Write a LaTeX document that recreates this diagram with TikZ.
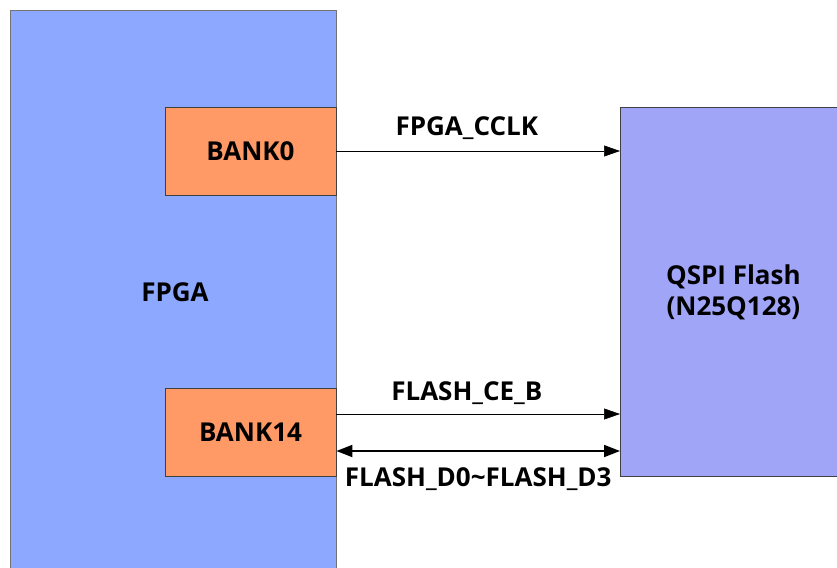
\documentclass[tikz,border=0pt]{standalone}
\usepackage{fontspec}
\setmainfont{Open Sans}
\usetikzlibrary{arrows.meta}
\definecolor{fpgablue}{RGB}{140,168,255}
\definecolor{bankorange}{RGB}{255,153,102}
\definecolor{flashblue}{RGB}{160,165,248}
\tikzset{
    block/.style={draw=black!75, line width=0.8pt, inner sep=0pt},
    txt/.style={font=\bfseries\fontsize{26}{31}\selectfont, inner sep=0pt},
    sig/.style={-{Triangle[length=16pt,width=11pt]}, line width=0.6pt},
    bus/.style={{Triangle[length=16pt,width=12pt]}-{Triangle[length=16pt,width=12pt]}, line width=1.8pt},
}
\begin{document}
\begin{tikzpicture}[x=1pt,y=-1pt]
    \clip (0,0) rectangle (837,567);
    \node[block, draw=black!55, fill=fpgablue, minimum width=326pt, minimum height=600pt, anchor=north west] (fpga) at (10,10) {};
    \node[txt] (fpganame) at (175,292) {FPGA};
    \node[block, fill=bankorange, minimum width=171pt, minimum height=88pt, txt] (bank0) at (250.5,151) {BANK0};
    \node[block, fill=bankorange, minimum width=171pt, minimum height=88pt, txt] (bank14) at (250.5,432) {BANK14};
    \node[block, fill=flashblue, minimum width=226pt, minimum height=369pt, anchor=north west, align=center, txt] (flash) at (620,107) {QSPI Flash\\(N25Q128)};
    % signals
    \draw[sig] (bank0.east) -- (bank0.east -| flash.west)
        node[txt, pos=0.46, above=11pt] {FPGA\_CCLK};
    \draw[sig] ([yshift=18pt]bank14.east) -- ([yshift=18pt]bank14.east -| flash.west)
        node[txt, pos=0.46, above=9pt] {FLASH\_CE\_B};
    \draw[bus] ([yshift=-19pt]bank14.east) -- ([yshift=-19pt]bank14.east -| flash.west)
        node[txt, midway, below=16pt] {FLASH\_D0\textasciitilde FLASH\_D3};
\end{tikzpicture}
\end{document}
